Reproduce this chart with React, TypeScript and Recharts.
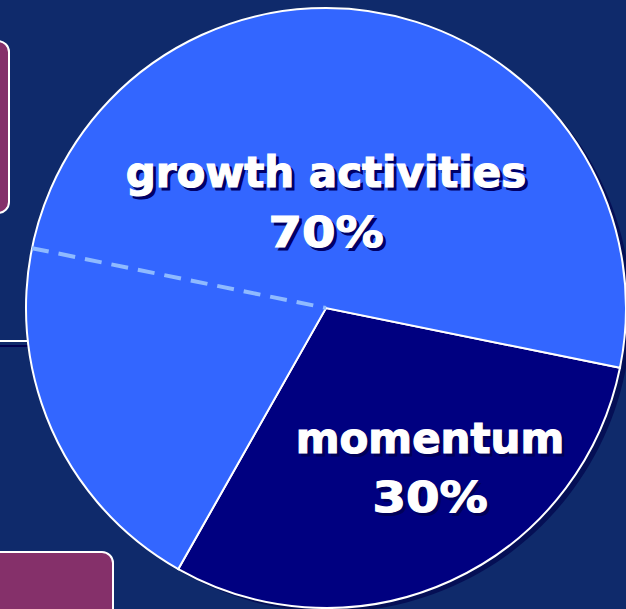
import { PieChart, Pie, Cell } from 'recharts';

// main split of the pie
const sliceNames = ['momentum', 'growth activities'];
const sliceValues = [30, 70];
const sliceLabels = ['30%', '70%'];
const sliceColors = ['#000080', '#3366ff'];

// growth activities is itself split in two by a dashed line
const subNames = ['momentum', 'growth (lower)', 'growth (upper)'];
const subValues = [30, 20, 50];

const START = -11.5;
const END = START - 360;
const CX = 326;
const CY = 308;
const R = 300;

const data = sliceNames.map((name, i) => ({ name, value: sliceValues[i], label: sliceLabels[i] }));
const subData = subNames.map((name, i) => ({ name, value: subValues[i] }));

const FONT = '"DejaVu Sans", Verdana, sans-serif';

// label offsets from the pie centre, per slice
const labelOffsets = [
  { dx: 104, dy1: 145, dy2: 204, shadow: '#00005a' },
  { dx: 0, dy1: -121, dy2: -61, shadow: '#000066' },
];

function ShadowText({ x, y, text, shadow, stretch = 1, size = 42 }: { x: number; y: number; text: string; shadow: string; stretch?: number; size?: number }) {
  const common = {
    textAnchor: 'middle' as const,
    fontFamily: FONT,
    fontWeight: 'bold',
    fontSize: size,
    strokeWidth: 1.2,
  };
  return (
    <g transform={`translate(${x},${y}) scale(${stretch},1)`}>
      <text x={3 / stretch} y={3} fill={shadow} stroke={shadow} {...common}>
        {text}
      </text>
      <text x={0} y={0} fill="#ffffff" stroke="#ffffff" {...common}>
        {text}
      </text>
    </g>
  );
}

const renderLabel = (props: any) => {
  const { cx, cy, index, payload } = props;
  const o = labelOffsets[index];
  const item = payload && payload.payload ? payload.payload : payload;
  return (
    <g key={`lbl-${index}`}>
      <ShadowText x={cx + o.dx} y={cy + o.dy1} text={item.name} shadow={o.shadow} />
      <ShadowText x={cx + o.dx} y={cy + o.dy2} text={item.label} shadow={o.shadow} stretch={1.12} size={43} />
    </g>
  );
};

const renderDivider = (props: any) => {
  const { cx, cy, index, endAngle, outerRadius } = props;
  if (index !== 1) return <g key={`d-${index}`} />;
  const rad = (-endAngle * Math.PI) / 180;
  const x2 = cx + outerRadius * Math.cos(rad);
  const y2 = cy + outerRadius * Math.sin(rad);
  return (
    <line
      key={`d-${index}`}
      x1={x2}
      y1={y2}
      x2={cx}
      y2={cy}
      stroke="#8fbaff"
      strokeWidth={4}
      strokeDasharray="17 10"
    />
  );
};

export default function App() {
  return (
    <div
      style={{
        position: 'fixed',
        left: 0,
        top: 0,
        width: 626,
        height: 609,
        overflow: 'hidden',
        background: '#0f2a6b',
      }}
    >
      <div
        style={{
          position: 'absolute',
          left: -30,
          top: 40,
          width: 36,
          height: 170,
          background: '#85306a',
          border: '2px solid #ffffff',
          borderRadius: 12,
        }}
      />
      <div
        style={{
          position: 'absolute',
          left: -30,
          top: 551,
          width: 140,
          height: 100,
          background: '#85306a',
          border: '2px solid #ffffff',
          borderRadius: 12,
        }}
      />
      <div style={{ position: 'absolute', left: 0, top: 345, width: 74, height: 2, background: '#000050' }} />
      <div style={{ position: 'absolute', left: 0, top: 340, width: 68, height: 2, background: '#ffffff' }} />
      <div style={{ position: 'absolute', left: 0, top: 0 }}>
        <PieChart width={626} height={609} margin={{ top: 0, right: 0, bottom: 0, left: 0 }}>
          {/* drop shadow */}
          <Pie
            data={[{ name: 'shadow', value: 100 }]}
            dataKey="value"
            cx={CX + 5}
            cy={CY + 5}
            outerRadius={R}
            startAngle={START}
            endAngle={END}
            fill="#050f55"
            stroke="none"
            isAnimationActive={false}
          />
          <Pie
            data={data}
            dataKey="value"
            cx={CX}
            cy={CY}
            outerRadius={R}
            startAngle={START}
            endAngle={END}
            stroke="#ffffff"
            strokeWidth={2}
            label={renderLabel}
            labelLine={false}
            isAnimationActive={false}
          >
            {data.map((d, i) => (
              <Cell key={d.name} fill={sliceColors[i]} />
            ))}
          </Pie>
          <Pie
            data={subData}
            dataKey="value"
            cx={CX}
            cy={CY}
            outerRadius={R}
            startAngle={START}
            endAngle={END}
            fill="none"
            stroke="none"
            label={renderDivider}
            labelLine={false}
            isAnimationActive={false}
          />
        </PieChart>
      </div>
    </div>
  );
}
